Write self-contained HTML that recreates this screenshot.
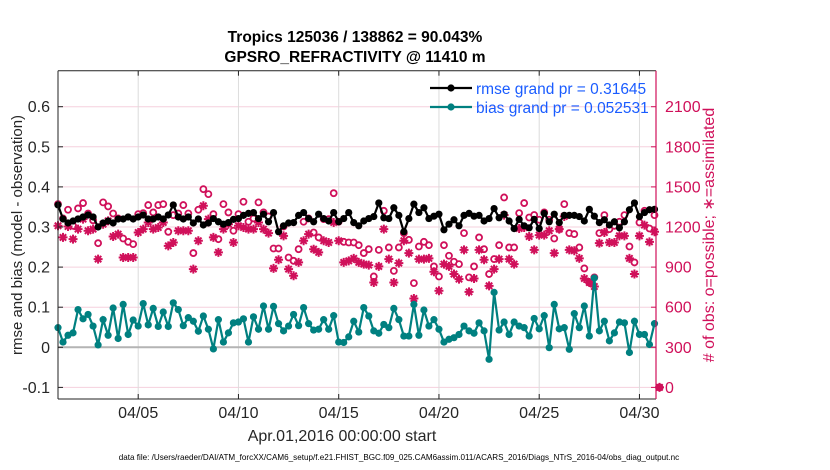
<!DOCTYPE html>
<html><head><meta charset="utf-8"><style>
body{margin:0;background:#fff;}
svg{display:block;font-family:"Liberation Sans",sans-serif;}
</style></head><body>
<svg id="chart" width="830" height="470" viewBox="0 0 830 470"></svg>
<script>
const bias=[0.049,0.013,0.030,0.036,0.094,0.071,0.082,0.053,0.006,0.069,0.030,0.098,0.022,0.107,0.032,0.068,0.053,0.109,0.056,0.097,0.052,0.088,0.052,0.111,0.094,0.054,0.074,0.065,0.040,0.078,0.045,
-0.004,0.069,0.013,0.036,0.061,0.063,0.071,0.013,0.076,0.045,0.103,0.045,0.102,0.059,0.041,0.053,0.082,0.054,0.099,0.059,0.043,0.045,0.069,0.045,0.079,0.013,0.012,0.026,0.065,0.038,
0.099,0.078,0.041,0.035,0.057,0.049,0.097,0.069,0.028,0.028,0.107,0.030,0.093,0.053,0.069,0.045,0.013,0.020,0.024,0.032,0.053,0.041,0.035,0.061,0.041,-0.030,0.137,0.043,0.063,0.032,
0.063,0.053,0.049,0.028,0.072,0.046,0.079,-0.001,0.107,0.046,0.049,-0.005,0.084,0.049,0.103,0.028,0.173,0.041,0.065,0.016,0.036,0.063,0.061,-0.013,0.065,0.032,0.032,0.007,0.059];
const rmse=[0.355,0.320,0.310,0.315,0.320,0.325,0.330,0.325,0.300,0.310,0.315,0.310,0.320,0.320,0.325,0.320,0.325,0.330,0.320,0.320,0.325,0.320,0.330,0.355,0.325,0.320,0.325,0.310,0.320,0.305,0.310,
0.321,0.313,0.307,0.311,0.319,0.321,0.329,0.334,0.336,0.321,0.332,0.313,0.336,0.288,0.303,0.310,0.311,0.329,0.336,0.321,0.313,0.332,0.321,0.315,0.336,0.313,0.321,0.336,0.311,0.303,
0.315,0.321,0.326,0.360,0.323,0.321,0.348,0.329,0.288,0.321,0.357,0.336,0.348,0.321,0.327,0.332,0.293,0.307,0.318,0.303,0.329,0.334,0.327,0.329,0.315,0.321,0.346,0.323,0.332,0.315,
0.296,0.319,0.303,0.298,0.319,0.296,0.334,0.313,0.332,0.311,0.329,0.329,0.329,0.326,0.315,0.344,0.327,0.311,0.318,0.305,0.313,0.298,0.313,0.343,0.360,0.326,0.336,0.343,0.344];
const possible=[1371,1264,1329,1209,1339,1379,1301,1250,1079,1384,1354,1301,1264,1114,1089,1072,1296,1304,1364,1309,1364,1371,1164,1289,1301,1364,1301,1005,1329,1483,1446,
1296,1109,1371,1309,1172,1296,1389,1239,1264,1384,1309,1279,1039,1039,1204,972,947,1034,1239,1264,1159,1122,1259,1259,1453,1239,1089,1084,1084,1064,
1005,1034,830,1029,1321,1047,872,1047,1154,1104,780,1054,1089,1064,905,830,1064,985,940,922,1154,823,905,1122,1034,848,960,1064,1421,1047,
1047,1304,1379,1271,1290,1254,1309,1254,1114,1184,1371,1154,1147,1047,890,785,823,1154,1289,1184,1209,1239,1289,1054,935,1234,1321,1189,1289,0];
const assim=[1209,1122,1204,1109,1184,1259,1172,1184,960,1221,1246,1129,1147,972,972,972,1159,1184,1234,1184,1196,1234,1059,1084,1172,1172,1172,885,1097,1359,1259,
1122,1010,1184,1221,1084,1209,1196,1184,1184,1234,1184,1154,890,955,1134,885,835,935,1097,1147,1034,1010,1097,1084,1234,1097,935,947,965,935,
922,915,785,905,1184,960,785,930,1097,1005,665,960,960,965,865,723,922,905,848,810,1029,715,815,1029,955,760,885,960,1289,960,
922,1189,1196,1129,1029,1139,1139,1172,1005,1184,1279,1029,1022,965,815,785,755,1079,1159,1084,1084,1134,1134,965,848,1134,1214,1089,1164,0];
const yTicks=[0.6,0.5,0.4,0.3,0.2,0.1,0,-0.1];
const yTickLabels=["0.6","0.5","0.4","0.3","0.2","0.1","0","-0.1"];
const rTicks=[0,300,600,900,1200,1500,1800,2100];
const xTicks=[4,9,14,19,24,29];
const xTickLabels=["04/05","04/10","04/15","04/20","04/25","04/30"];

const L=58,R=656,T=70.7,B=399;
const X=t=>L+t*20.05;
const Y=v=>347.3-v*401;
const YR=n=>Y(n/3000-0.1);
const svg=document.getElementById('chart');
const NS='http://www.w3.org/2000/svg';
function mk(tag,attrs,parent){const e=document.createElementNS(NS,tag);for(const k in attrs)e.setAttribute(k,attrs[k]);(parent||svg).appendChild(e);return e;}
const CR='#d0105a',TE='#008080';

yTicks.forEach((v,i)=>{const l=mk('line',{x1:L,x2:R,y1:Y(v),y2:Y(v),stroke:'#f5d0dd','stroke-width':1});

});
xTicks.forEach(d=>{const l=mk('line',{x1:X(d),x2:X(d),y1:T,y2:B,stroke:'#dcdcdc','stroke-width':1});

});
const zl=mk('line',{x1:L,x2:R,y1:Y(0),y2:Y(0),stroke:'#b4b4b4','stroke-width':2});



const gp=mk('g',{});


possible.forEach((n,i)=>{const c=mk('circle',{cx:X(i*0.25),cy:YR(n),r:3,fill:'#fff',stroke:CR,'stroke-width':1.8},gp);

});
const ga=mk('g',{});


assim.forEach((n,i)=>{const cx=X(i*0.25),cy=YR(n),r=4.5;let d='';
for(let k=0;k<4;k++){const a=k*Math.PI/4;d+=`M${cx-r*Math.cos(a)},${cy-r*Math.sin(a)}L${cx+r*Math.cos(a)},${cy+r*Math.sin(a)}`;}
const p=mk('path',{d:d,stroke:CR,'stroke-width':2},ga);

});

function series(vals,color,name){
const g=mk('g',{});


mk('polyline',{points:vals.map((v,i)=>X(i*0.25)+','+Y(v)).join(' '),fill:'none',stroke:color,'stroke-width':2.2},g);
vals.forEach((v,i)=>{const c=mk('circle',{cx:X(i*0.25),cy:Y(v),r:3.6,fill:color},g);

});}
series(rmse,'#000','rmse-series');
series(bias,TE,'bias-series');

mk('line',{x1:L,x2:L,y1:T,y2:B,stroke:'#222','stroke-width':1});
mk('line',{x1:L,x2:R,y1:T,y2:T,stroke:'#222','stroke-width':1});
mk('line',{x1:L,x2:R,y1:B,y2:B,stroke:'#222','stroke-width':1});
mk('line',{x1:R,x2:R,y1:T,y2:B,stroke:CR,'stroke-width':1.2});
yTicks.forEach((v,i)=>{mk('line',{x1:L,x2:L+5,y1:Y(v),y2:Y(v),stroke:'#222'});
const t=mk('text',{x:L-8,y:Y(v)+5.5,'text-anchor':'end','font-size':16,fill:'#262626'});t.textContent=yTickLabels[i];

});
rTicks.forEach(n=>{mk('line',{x1:R-5,x2:R,y1:YR(n),y2:YR(n),stroke:CR});
const t=mk('text',{x:R+9,y:YR(n)+5.5,'font-size':16,fill:CR});t.textContent=n;

});
xTicks.forEach((d,i)=>{mk('line',{x1:X(d),x2:X(d),y1:B,y2:B-5,stroke:'#222'});mk('line',{x1:X(d),x2:X(d),y1:T,y2:T+5,stroke:'#222'});
const t=mk('text',{x:X(d),y:418,'text-anchor':'middle','font-size':16,fill:'#262626'});t.textContent=xTickLabels[i];

});
</script>
<div style="position:absolute;left:0;top:0;width:830px;height:470px;pointer-events:none">
<svg width="830" height="470" style="position:absolute;left:0;top:0">
<text x="355" y="42" text-anchor="middle" font-size="15.5" font-weight="bold" fill="#000">Tropics 125036 / 138862 = 90.043%</text>
<text x="355" y="62" text-anchor="middle" font-size="15.5" font-weight="bold" fill="#000">GPSRO_REFRACTIVITY @ 11410 m</text>
<g>
<line x1="430" x2="472" y1="88" y2="88" stroke="#000" stroke-width="2.2"/><circle cx="451" cy="88" r="3.6" fill="#000"/>
<text x="476" y="94" font-size="15.5" fill="#1a5cff">rmse grand pr = 0.31645</text>
<line x1="430" x2="472" y1="107" y2="107" stroke="#008080" stroke-width="2.2"/><circle cx="451" cy="107" r="3.6" fill="#008080"/>
<text x="476" y="113" font-size="15.5" fill="#1a5cff">bias grand pr = 0.052531</text>
</g>
<text transform="translate(22,235) rotate(-90)" text-anchor="middle" font-size="15" fill="#262626">rmse and bias (model - observation)</text>
<text transform="translate(714,235) rotate(-90)" text-anchor="middle" font-size="16" fill="#d0105a"># of obs: o=possible; ∗=assimilated</text>
<text x="342" y="441" text-anchor="middle" font-size="16" fill="#262626">Apr.01,2016 00:00:00 start</text>
<text x="399" y="460" text-anchor="middle" font-size="8.1" fill="#000">data file: /Users/raeder/DAI/ATM_forcXX/CAM6_setup/f.e21.FHIST_BGC.f09_025.CAM6assim.011/ACARS_2016/Diags_NTrS_2016-04/obs_diag_output.nc</text>
</svg></div>
</body></html>
